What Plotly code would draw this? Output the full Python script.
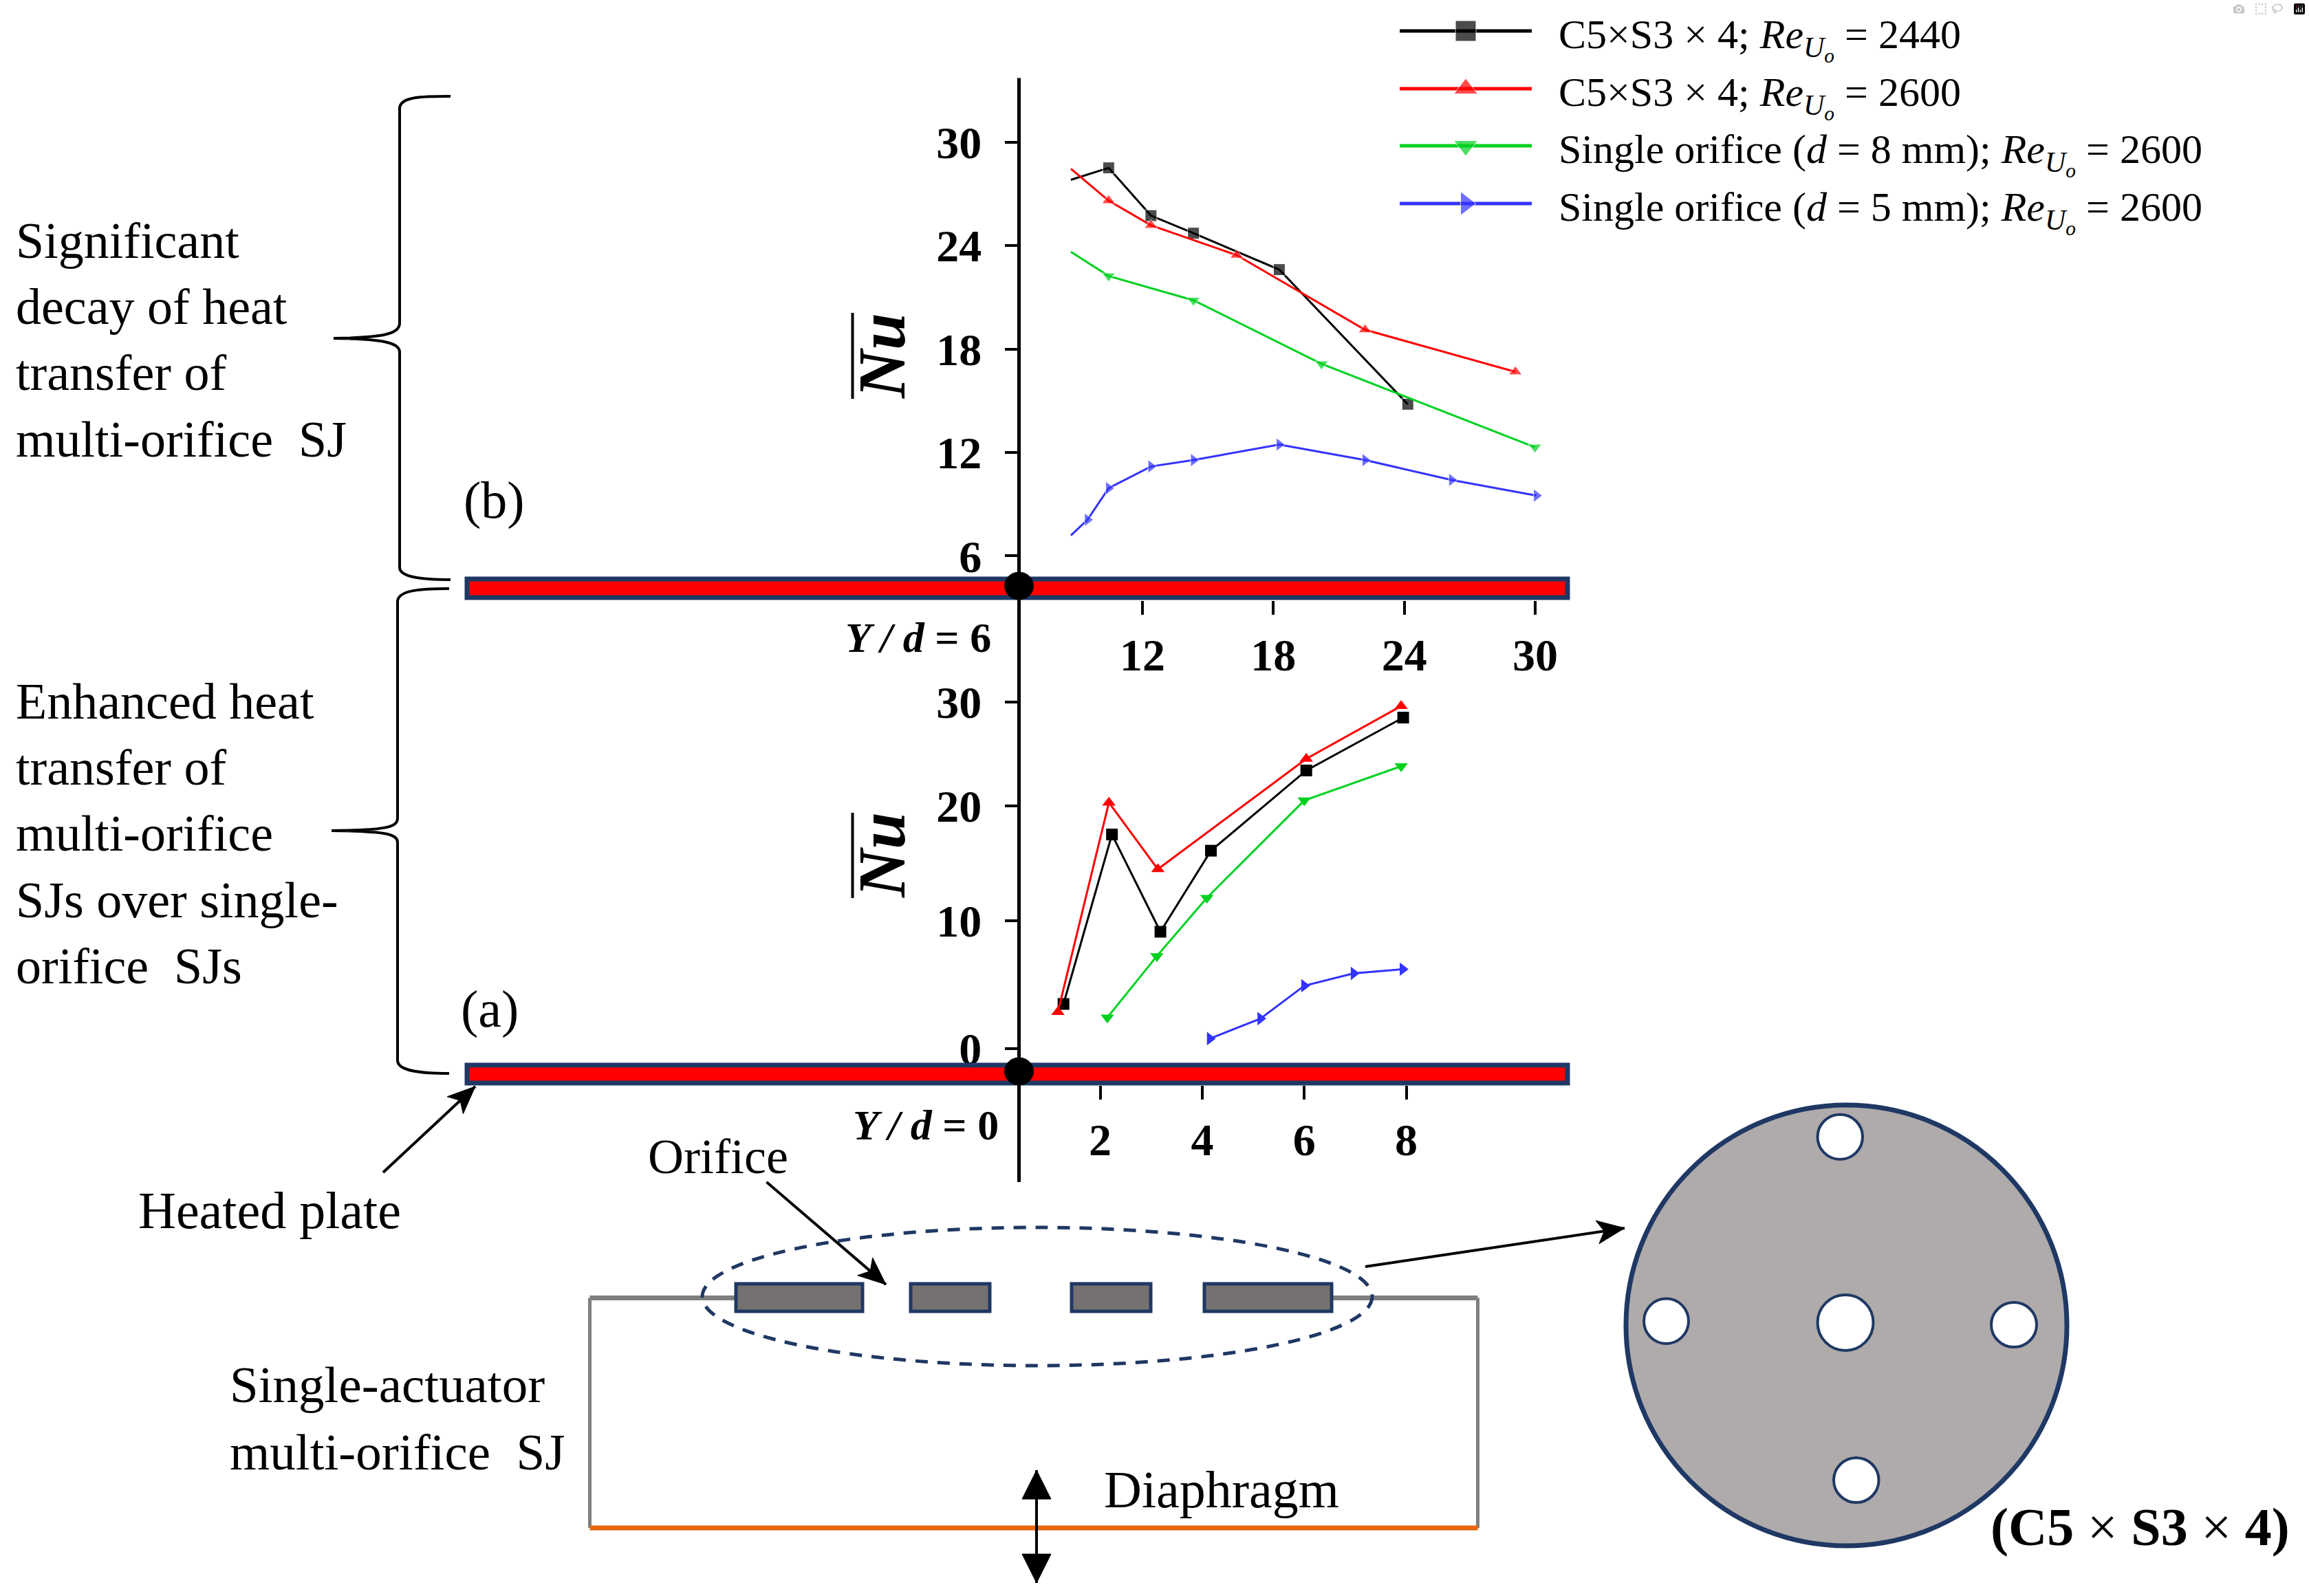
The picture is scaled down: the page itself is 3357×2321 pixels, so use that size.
import numpy as np
import plotly.graph_objects as go

W, H = 3357, 2321
SERIF = "Liberation Serif"
NAVY = "#1f3864"
GRAY = "#7f7f7f"
BLACK, RED, GREEN, BLUE = "#000000", "#ff0000", "#00d11f", "#3333ff"

# ---- panel (b), Y/d = 6 ----
b_black_x = [8.72, 10.45, 12.39, 14.34, 18.27, 24.16]
b_black_y = [27.82, 28.51, 25.74, 24.72, 22.61, 14.80]
b_red_x = [8.72, 10.45, 12.39, 16.32, 22.2, 29.09]
b_red_y = [28.46, 26.61, 25.18, 23.45, 19.12, 16.68]
b_green_x = [8.72, 10.45, 14.34, 20.21, 29.99]
b_green_y = [23.64, 22.24, 20.83, 17.14, 12.31]
b_blue_x = [8.72, 9.48, 10.45, 12.39, 14.34, 18.27, 22.2, 26.17, 30.06]
b_blue_y = [7.19, 8.10, 9.93, 11.19, 11.56, 12.46, 11.56, 10.41, 9.50]
b_xticks = [12, 18, 24, 30]
b_yticks = [6, 12, 18, 24, 30]

# ---- panel (a), Y/d = 0 ----
a_black_x = [1.28, 2.23, 3.18, 4.17, 6.04, 7.94]
a_black_y = [3.48, 17.52, 9.15, 16.11, 23.42, 28.51]
a_red_x = [1.17, 2.17, 3.13, 6.04, 7.90]
a_red_y = [2.85, 20.33, 14.50, 24.54, 29.63]
a_green_x = [2.14, 3.11, 4.09, 6.00, 7.90]
a_green_y = [2.42, 7.24, 12.01, 20.53, 23.83]
a_blue_x = [4.15, 5.14, 6.00, 6.97, 7.93]
a_blue_y = [0.76, 2.33, 4.91, 5.88, 6.21]
a_xticks = [2, 4, 6, 8]
a_yticks = [0, 10, 20, 30]
# the source's y axis in panel (a) is drawn with unequal tick spacing
a_ytick_drawn = [0, 11.04, 21.0, 30]

names = ["C5×S3 × 4; Re = 2440", "C5×S3 × 4; Re = 2600",
         "Single orifice (d = 8 mm); Re = 2600", "Single orifice (d = 5 mm); Re = 2600"]
RE = "<i>Re<sub>U<sub>o</sub></sub></i>"
legend_labels = [f"C5×S3 × 4; {RE} = 2440", f"C5×S3 × 4; {RE} = 2600",
                 f"Single orifice (<i>d</i> = 8 mm); {RE} = 2600",
                 f"Single orifice (<i>d</i> = 5 mm); {RE} = 2600"]
colors = [BLACK, RED, GREEN, BLUE]
symbols = ["square", "triangle-up", "triangle-down", "triangle-right"]


def warp(v):
    return np.interp(v, a_yticks, a_ytick_drawn)


fig = go.Figure()

# panel b
for xs, ys, c, s, n, first in zip(
        [b_black_x, b_red_x, b_green_x, b_blue_x],
        [b_black_y, b_red_y, b_green_y, b_blue_y], colors, symbols, names, [0, 0, 0, 0]):
    fig.add_trace(go.Scatter(x=xs, y=ys, mode="lines+markers", name=n, showlegend=False,
                             line=dict(color=c, width=3),
                             marker=dict(symbol=s, color=c, size=[first] + [17] * (len(xs) - 1)),
                             xaxis="x", yaxis="y"))
# panel a
for xs, ys, c, s, n in zip(
        [a_black_x, a_red_x, a_green_x, a_blue_x],
        [a_black_y, a_red_y, a_green_y, a_blue_y], colors, symbols, names):
    fig.add_trace(go.Scatter(x=xs, y=warp(ys), mode="lines+markers", name=n, showlegend=False,
                             line=dict(color=c, width=3),
                             marker=dict(symbol=s, color=c, size=17),
                             xaxis="x2", yaxis="y2"))

# hand-drawn legend keys (page coordinates)
leg_rows = [45, 129, 212, 296]
for row, c, s in zip(leg_rows, colors, symbols):
    fig.add_trace(go.Scatter(x=[2035, 2131, 2227], y=[row] * 3, mode="lines+markers", showlegend=False,
                             hoverinfo="skip", line=dict(color=c, width=5),
                             marker=dict(symbol=s, color=c, size=[0, 30, 0]),
                             xaxis="x3", yaxis="y3"))

shapes = []


def L(x0, y0, x1, y1, color="black", width=4, dash=None):
    shapes.append(dict(type="line", xref="x3", yref="y3", x0=x0, y0=y0, x1=x1, y1=y1,
                       line=dict(color=color, width=width, dash=dash)))


def R(x0, y0, x1, y1, fill, color=NAVY, width=5):
    shapes.append(dict(type="rect", xref="x3", yref="y3", x0=x0, y0=y0, x1=x1, y1=y1,
                       fillcolor=fill, line=dict(color=color, width=width)))


def E(x0, y0, x1, y1, fill, color=NAVY, width=5, dash=None):
    shapes.append(dict(type="circle", xref="x3", yref="y3", x0=x0, y0=y0, x1=x1, y1=y1,
                       fillcolor=fill, line=dict(color=color, width=width, dash=dash)))


def P(path, fill=None, color="black", width=4):
    shapes.append(dict(type="path", xref="x3", yref="y3", path=path,
                       fillcolor=fill if fill else "rgba(0,0,0,0)", line=dict(color=color, width=width)))


def arrow(x0, y0, x1, y1, hl=40, hw=17, notch=0.0, width=4, both=False):
    d = np.array([x1 - x0, y1 - y0], float)
    d /= np.hypot(*d)
    n = np.array([-d[1], d[0]])

    def head(tip, u):
        base = tip - u * hl
        a, b = base + n * hw, base - n * hw
        m = tip - u * hl * (1 - notch)
        P(f"M{tip[0]},{tip[1]} L{a[0]},{a[1]} L{m[0]},{m[1]} L{b[0]},{b[1]} Z", fill="black", width=1)

    L(x0, y0, x1, y1, width=width)
    head(np.array([x1, y1], float), d)
    if both:
        head(np.array([x0, y0], float), -d)


# central vertical axis line
L(1481.5, 113.5, 1481.5, 1719, width=5)

# heated plates
R(679, 842, 2279, 869, RED, NAVY, 7)
R(679, 1549, 2279, 1575, RED, NAVY, 7)
E(1460.5, 832, 1502.5, 872, "black", "black", 1)
E(1460.5, 1538, 1502.5, 1578, "black", "black", 1)

# Nu overlines
L(1239.5, 455, 1239.5, 580, width=4)
L(1239.5, 1182, 1239.5, 1306, width=4)

# braces
P("M655,140 C615,140 581,140 581,158 L581,470 C581,485 560,491 485,492 "
  "C560,493 581,499 581,512 L581,825 C581,840 615,843 655,843")
P("M653,856 C613,856 578,858 578,875 L578,1190 C578,1204 557,1207 482,1208 "
  "C557,1209 578,1212 578,1225 L578,1542 C578,1558 613,1561 653,1561")

# actuator cavity
L(857.5, 1887.5, 1070, 1887.5, GRAY, 7)
L(1936, 1887.5, 2148.5, 1887.5, GRAY, 7)
L(857.5, 1887.5, 857.5, 2222, GRAY, 5)
L(2148.5, 1887.5, 2148.5, 2222, GRAY, 5)
L(857.5, 2222, 2148.5, 2222, "#e8650a", 7)
for x0, x1 in [(1070, 1254), (1324, 1439), (1558, 1673), (1751, 1936)]:
    R(x0, 1867, x1, 1907, "#767171", NAVY, 5)
E(1021, 1785, 1995, 1986, "rgba(0,0,0,0)", NAVY, 5, "18px,14px")

# orifice plate
E(2364, 1607, 3005, 2248, "#afabab", NAVY, 7)
for hole in [(2642.5, 1620.7, 2708, 1686), (2390, 1888.6, 2455, 1954), (2642.5, 1883, 2723.5, 1964),
             (2895, 1894, 2961, 1959), (2666, 2120, 2731.5, 2185)]:
    E(*hole, "white", NAVY, 4)

# arrows
arrow(557, 1705, 691, 1580, notch=0.25)
arrow(1114.5, 1719, 1288, 1868, notch=0.25)
arrow(1985, 1842, 2362, 1786, notch=0.25)
arrow(1507, 2138, 1507, 2302, hl=42, hw=21, both=True)


def T(x, y, text, size=76, anchor="left", bold=False, angle=0, valign="middle", color="black"):
    return dict(x=x, y=y, xref="x3", yref="y3", text=text, showarrow=False, xanchor=anchor,
                yanchor=valign, align="left", textangle=angle,
                font=dict(family=SERIF, size=size, color=color))


annotations = [
    T(21, 494, "Significant<br>decay of heat<br>transfer of<br>multi-orifice  SJ", 74),
    T(21, 1212, "Enhanced heat<br>transfer of<br>multi-orifice<br>SJs over single-<br>orifice  SJs", 74),
    T(672, 727, "(b)", 76),
    T(668, 1467, "(a)", 76),
    T(1227, 927, "<b><i>Y / d</i> = 6</b>", 62),
    T(1238, 1636, "<b><i>Y / d</i> = 0</b>", 62),
    T(1282, 518, "<b><i>Nu</i></b>", 97, anchor="center", angle=-90),
    T(1282, 1244, "<b><i>Nu</i></b>", 97, anchor="center", angle=-90),
    T(940, 1682, "Orifice", 72),
    T(199, 1760, "Heated plate", 76),
    T(332, 2062, "Single-actuator<br>multi-orifice  SJ", 75),
    T(1603, 2166, "Diaphragm", 76),
    T(2892, 2220, "<b>(C5 </b>×<b> S3 </b>×<b> 4)</b>", 78),
]
for row, lab in zip(leg_rows, legend_labels):
    annotations.append(T(2264, row + 12, lab, 60))

# axis calibration (page pixels per data unit)
bx0, by0 = 1661.0, 206.8
bsx, bsy = 31.72, 25.07
ax0, ay0 = 1599.6, 1524.5
asx, asy = 74.15, 16.78
left, right = 1481.5, 2279
btop, bbot = 113.5, 873
atop, abot = 960, 1578

tick_font = dict(family=SERIF, size=66, color="black", weight="bold")
ax_common = dict(showgrid=False, zeroline=False, showline=False, ticks="outside",
                 tickcolor="black", tickwidth=4, tickfont=tick_font, fixedrange=True)

fig.update_layout(
    width=W, height=H, autosize=False, margin=dict(l=0, r=0, t=0, b=0, pad=0),
    paper_bgcolor="white", plot_bgcolor="rgba(0,0,0,0)", showlegend=False,
    xaxis=dict(domain=[left / W, right / W], anchor="y",
               range=[12 + (left - bx0) / bsx, 12 + (right - bx0) / bsx],
               tickmode="array", tickvals=b_xticks, ticklen=20, ticklabelstandoff=2, **ax_common),
    yaxis=dict(domain=[1 - bbot / H, 1 - btop / H], anchor="x",
               range=[30 - (bbot - by0) / bsy, 30 - (btop - by0) / bsy],
               tickmode="array", tickvals=b_yticks, ticklen=20, ticklabelstandoff=20, **ax_common),
    xaxis2=dict(domain=[left / W, right / W], anchor="y2",
                range=[2 + (left - ax0) / asx, 2 + (right - ax0) / asx],
                tickmode="array", tickvals=a_xticks, ticklen=20, ticklabelstandoff=2, **ax_common),
    yaxis2=dict(domain=[1 - abot / H, 1 - atop / H], anchor="x2",
                range=[(ay0 - abot) / asy, (ay0 - atop) / asy],
                tickmode="array", tickvals=a_ytick_drawn, ticktext=[str(v) for v in a_yticks],
                ticklen=20, ticklabelstandoff=20, **ax_common),
    xaxis3=dict(domain=[0, 1], range=[0, W], visible=False, anchor="y3", fixedrange=True),
    yaxis3=dict(domain=[0, 1], range=[H, 0], visible=False, anchor="x3", fixedrange=True),
    shapes=shapes, annotations=annotations,
)

fig.write_html("out.html", post_script="document.body.style.margin='0';document.body.style.overflow='hidden';")
